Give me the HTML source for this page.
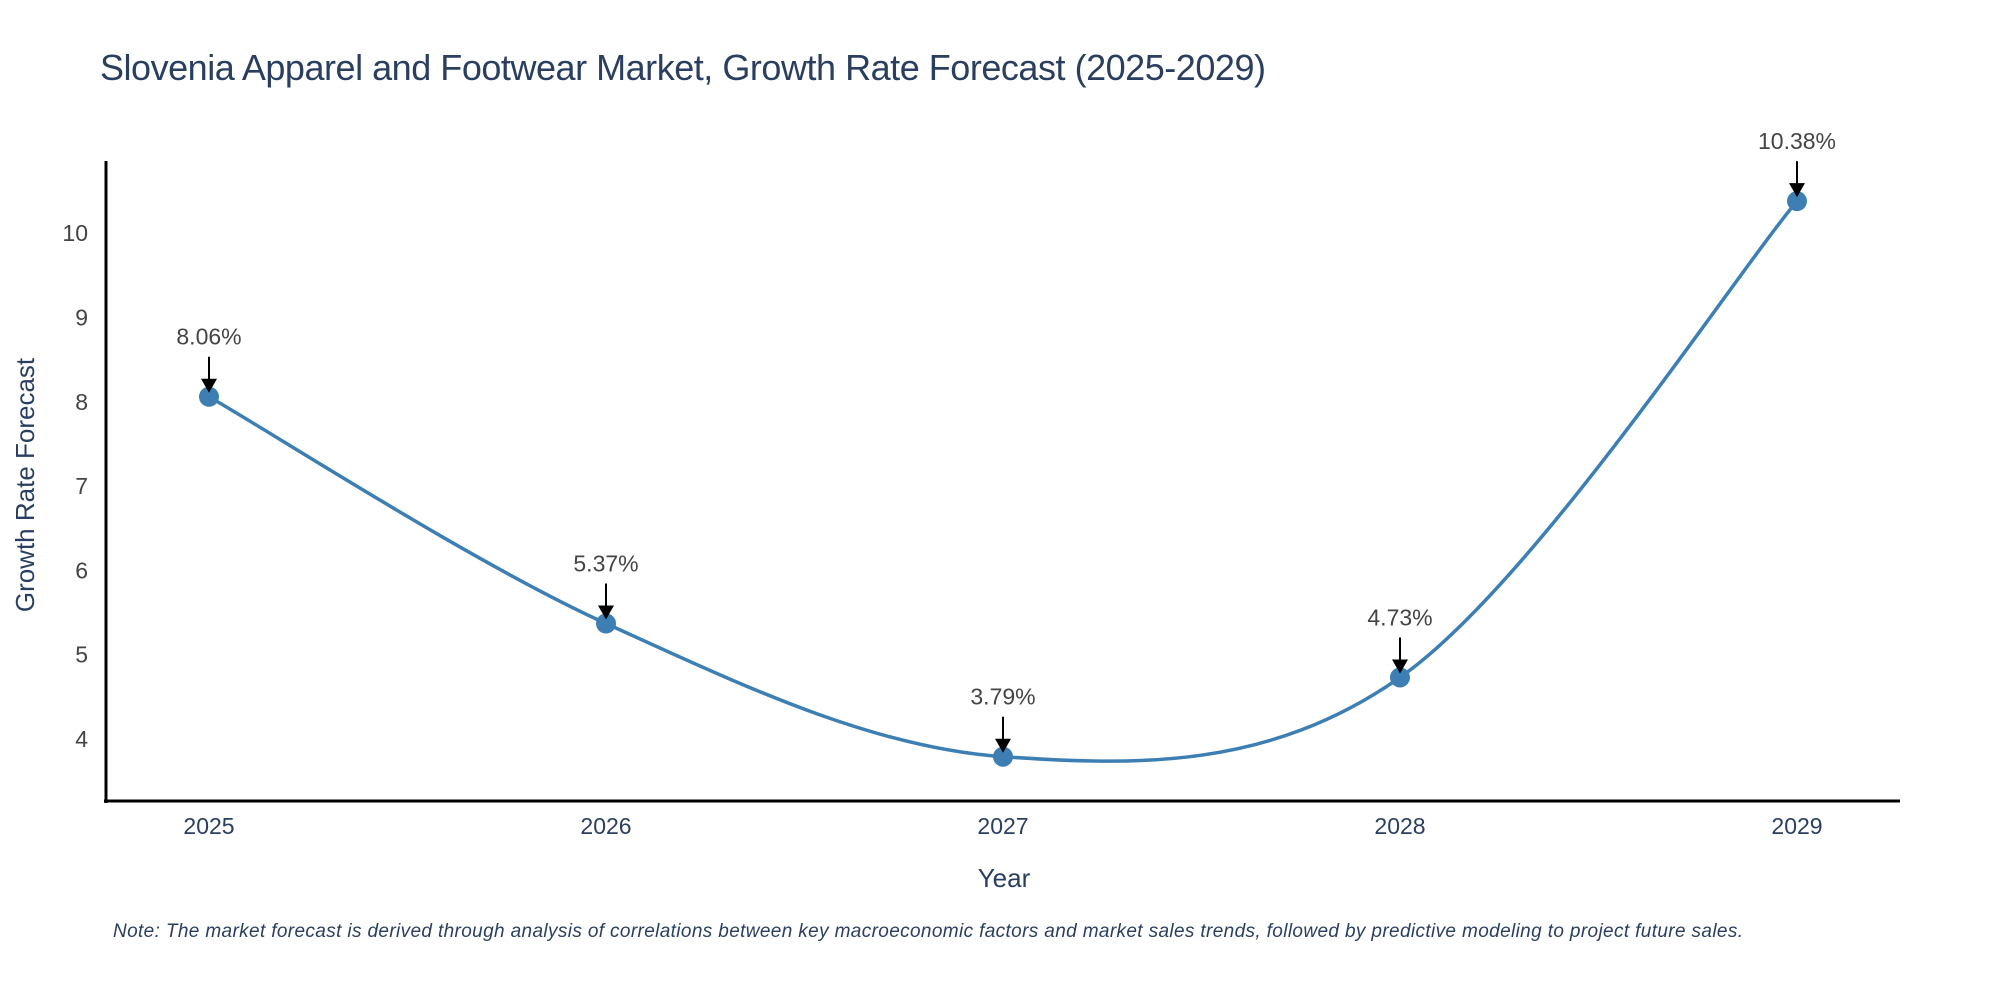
<!DOCTYPE html>
<html><head><meta charset="utf-8"><style>
body{margin:0;background:#fff}
svg text{font-family:"Liberation Sans",sans-serif}
</style></head><body>
<svg id="chart" width="2000" height="1000" viewBox="0 0 2000 1000">
<rect width="2000" height="1000" fill="#fff"/>
<text x="100" y="80" font-size="36" fill="#2a3f5f" textLength="1166">Slovenia Apparel and Footwear Market, Growth Rate Forecast (2025-2029)</text>
<g id="axes"></g>
<g id="series"></g>
<text x="1004" y="887" font-size="26" fill="#2a3f5f" text-anchor="middle">Year</text>
<text transform="translate(34,485) rotate(-90)" font-size="26" fill="#2a3f5f" text-anchor="middle">Growth Rate Forecast</text>
<text x="113" y="937" font-size="19" font-style="italic" fill="#2a3f5f" textLength="1630">Note: The market forecast is derived through analysis of correlations between key macroeconomic factors and market sales trends, followed by predictive modeling to project future sales.</text>
</svg>
<script>
const years = [2025, 2026, 2027, 2028, 2029];
const values = [8.06, 5.37, 3.79, 4.73, 10.38];
const yTicks = [4, 5, 6, 7, 8, 9, 10];
const NS = "http://www.w3.org/2000/svg";
const xScale = y => 209 + (y - 2025) * 397;
const yScale = v => 739 - (v - 4) * 84.3;
function mk(tag, attrs, parent){const e=document.createElementNS(NS,tag);for(const k in attrs)e.setAttribute(k,attrs[k]);parent.appendChild(e);return e;}
const axes=document.getElementById('axes'), ser=document.getElementById('series');
const ya=mk('line',{x1:106,y1:161,x2:106,y2:803,stroke:'#000','stroke-width':3},axes);


const xa=mk('line',{x1:104,y1:801,x2:1900,y2:801,stroke:'#000','stroke-width':3},axes);


yTicks.forEach(t=>{const e=mk('text',{x:88,y:yScale(t)+8,'font-size':23,fill:'#444','text-anchor':'end'},axes);e.textContent=t;

});
years.forEach(y=>{const e=mk('text',{x:xScale(y),y:834,'font-size':23,fill:'#2a3f5f','text-anchor':'middle'},axes);e.textContent=y;

});
const pts=years.map((y,i)=>[xScale(y),yScale(values[i])]);
let d=`M${pts[0][0]},${pts[0][1]}`;const s=1/6;
for(let i=0;i<pts.length-1;i++){const p0=pts[Math.max(0,i-1)],p1=pts[i],p2=pts[i+1],p3=pts[Math.min(pts.length-1,i+2)];
d+=` C${p1[0]+(p2[0]-p0[0])*s},${p1[1]+(p2[1]-p0[1])*s} ${p2[0]-(p3[0]-p1[0])*s},${p2[1]-(p3[1]-p1[1])*s} ${p2[0]},${p2[1]}`;}
const line=mk('path',{d:d,fill:'none',stroke:'#3d7fb3','stroke-width':3.5},ser);


pts.forEach((p,i)=>{
const c=mk('circle',{cx:p[0],cy:p[1],r:10,fill:'#3d7fb3'},ser);


const a=mk('line',{x1:p[0],y1:p[1]-40,x2:p[0],y2:p[1]-14,stroke:'#000','stroke-width':2},ser);


const h=mk('polygon',{points:`${p[0]-8},${p[1]-18} ${p[0]+8},${p[1]-18} ${p[0]},${p[1]-4}`,fill:'#000'},ser);


const t=mk('text',{x:p[0],y:p[1]-52,'font-size':23,fill:'#444','text-anchor':'middle'},ser);t.textContent=values[i].toFixed(2)+'%';


});
</script>
</body></html>
